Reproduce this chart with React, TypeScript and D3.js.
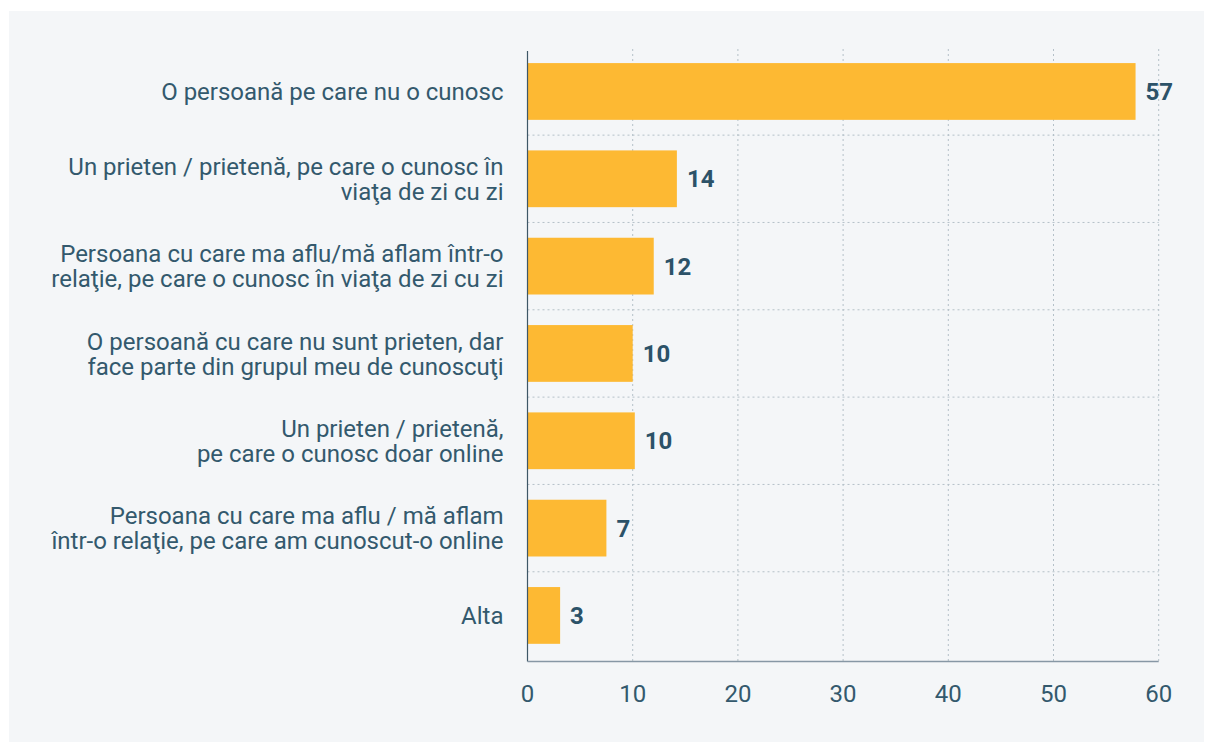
import React, { useEffect } from "react";
import * as d3 from "d3";

const categories: string[] = [
  "O persoană pe care nu o cunosc",
  "Un prieten / prietenă, pe care o cunosc în\nviaţa de zi cu zi",
  "Persoana cu care ma aflu/mă aflam într-o\nrelaţie, pe care o cunosc în viaţa de zi cu zi",
  "O persoană cu care nu sunt prieten, dar\nface parte din grupul meu de cunoscuţi",
  "Un prieten / prietenă,\npe care o cunosc doar online",
  "Persoana cu care ma aflu / mă aflam\nîntr-o relaţie, pe care am cunoscut-o online",
  "Alta",
];
const values: number[] = [57.8, 14.2, 12.0, 10.0, 10.2, 7.5, 3.1];
const valueLabels: string[] = ["57", "14", "12", "10", "10", "7", "3"];
const xTicks: number[] = [0, 10, 20, 30, 40, 50, 60];

const W = 1205;
const H = 742;
const left = 527.5;
const right = 1158.7;
const top = 47.8;
const bottom = 659.1;
const axisY = 661.5;

const TEXT = "#33596d";
const VALUE = "#2c5268";
const BAR = "#fdb933";
const GRID = "#b4c0c8";
const FONT = "Roboto, 'Noto Sans', sans-serif";

export default function App() {
  useEffect(() => {
    document.body.style.margin = "0";
  }, []);

  const x = d3.scaleLinear().domain([0, 60]).range([left, right]);
  const y = d3
    .scaleBand<string>()
    .domain(categories)
    .range([top, bottom])
    .paddingInner(0.35)
    .paddingOuter(0.175);
  const step = y.step();
  const bw = y.bandwidth();
  const lh = 25;

  return (
    <svg width={W} height={H} style={{ display: "block" }} fontFamily={FONT}>
      <rect x={9} y={11} width={W - 10} height={H - 11} fill="#f4f6f8" />
      {/* vertical grid */}
      {xTicks.slice(1).map((t) => (
        <line
          key={"vg" + t}
          x1={x(t)}
          x2={x(t)}
          y1={49}
          y2={axisY}
          stroke={GRID}
          strokeWidth={1}
          strokeDasharray="2,3"
        />
      ))}
      {/* horizontal grid between bands */}
      {categories.slice(0, -1).map((c) => {
        const yy = (y(c) as number) + bw + (step - bw) / 2;
        return (
          <line
            key={"hg" + c}
            x1={left}
            x2={right}
            y1={yy}
            y2={yy}
            stroke={GRID}
            strokeWidth={1}
            strokeDasharray="2,3"
          />
        );
      })}
      {/* bars */}
      {categories.map((c, i) => (
        <rect
          key={"b" + i}
          x={x(0)}
          y={y(c)}
          width={x(values[i]) - x(0)}
          height={bw}
          fill={BAR}
        />
      ))}
      {/* value labels */}
      {categories.map((c, i) => (
        <text
          key={"v" + i}
          x={x(values[i]) + 10}
          y={(y(c) as number) + bw / 2}
          dy="0.36em"
          fontSize={24}
          fontWeight={700}
          fill={VALUE}
        >
          {valueLabels[i]}
        </text>
      ))}
      {/* axes */}
      <line x1={left} x2={left} y1={51} y2={axisY} stroke="#3e5767" strokeWidth={1.2} />
      <line x1={left} x2={right} y1={axisY} y2={axisY} stroke="#8797a5" strokeWidth={1.5} />
      {/* x tick labels */}
      {xTicks.map((t) => (
        <text
          key={"xt" + t}
          x={x(t)}
          y={701.5}
          textAnchor="middle"
          fontSize={24}
          fill={TEXT}
        >
          {t}
        </text>
      ))}
      {/* category labels */}
      {categories.map((c, i) => {
        const lines = c.split("\n");
        const cy = (y(c) as number) + bw / 2;
        const firstBase = cy - ((lines.length - 1) * lh) / 2 + 8.6;
        return (
          <text
            key={"c" + i}
            x={503.5}
            textAnchor="end"
            fontSize={24}
            fill={TEXT}
          >
            {lines.map((ln, j) => (
              <tspan key={j} x={503.5} y={firstBase + j * lh}>
                {ln}
              </tspan>
            ))}
          </text>
        );
      })}
    </svg>
  );
}
